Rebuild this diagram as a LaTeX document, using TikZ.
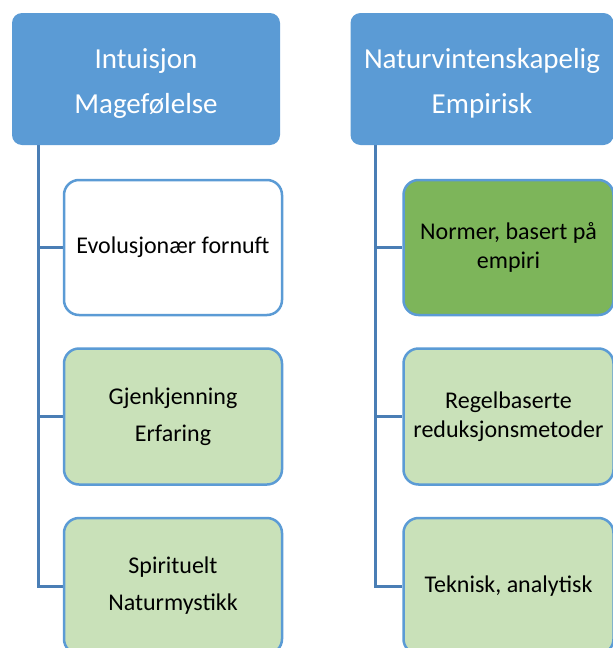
\documentclass[tikz,border=0pt]{standalone}
\usepackage{fontspec}
\setmainfont{Carlito}
\usetikzlibrary{backgrounds}
\definecolor{hdrblue}{HTML}{5B9BD5}
\definecolor{edgeblue}{HTML}{5B9BD5}
\definecolor{connblue}{HTML}{4A7EB5}
\definecolor{lightgreen}{HTML}{C9E1B9}
\definecolor{darkgreen}{HTML}{7DB55A}
\tikzset{
  header/.style={rectangle, rounded corners=10pt, fill=hdrblue, draw=none, text=white,
    align=center, font=\fontsize{29}{35}\selectfont, inner sep=0pt},
  child/.style={rectangle, rounded corners=15pt, draw=edgeblue, line width=2.5pt,
    align=center, font=\fontsize{24}{29}\selectfont, inner sep=0pt, text=black},
  conn/.style={draw=connblue, line width=3pt},
}
\begin{document}
\begin{tikzpicture}[x=1pt,y=1pt]
\useasboundingbox (0,0) rectangle (613,-648);
\clip (0,0) rectangle (613,-648);
% headers
\node[header, minimum width=268pt, minimum height=132pt] (hl) at (146,-79) {\rule{0pt}{29pt}Intuisjon\\[10pt]Magefølelse};
\node[header, minimum width=263pt, minimum height=132pt] (hr) at (482,-79) {\rule{0pt}{29pt}Naturvintenskapelig\\[10pt]Empirisk};
% trunk coordinates
\coordinate (lt) at ([xshift=-108pt]hl.south);
\coordinate (rt) at ([xshift=-107pt]hr.south);
% children left
\node[child, fill=white, minimum width=218pt, minimum height=135pt] (l1) at (173,-247.5) {Evolusjonær fornuft};
\node[child, fill=lightgreen, minimum width=218pt, minimum height=136pt] (l2) at (173,-416.5) {Gjenkjenning\\[8pt]Erfaring};
\node[child, fill=lightgreen, minimum width=218pt, minimum height=136pt] (l3) at (173,-586) {Spirituelt\\[8pt]Naturmystikk};
% children right
\node[child, fill=darkgreen, minimum width=210pt, minimum height=135pt] (r1) at (508.5,-247.5) {Normer, basert på\\empiri};
\node[child, fill=lightgreen, minimum width=210pt, minimum height=136pt] (r2) at (508.5,-416.5) {Regelbaserte\\reduksjonsmetoder};
\node[child, fill=lightgreen, minimum width=210pt, minimum height=136pt] (r3) at (508.5,-586) {Teknisk, analytisk};
% connectors
\begin{scope}[on background layer]
\draw[conn] (lt) |- (l3.west);
\draw[conn] (lt |- l1.west) -- (l1.west);
\draw[conn] (lt |- l2.west) -- (l2.west);
\draw[conn] (rt) |- (r3.west);
\draw[conn] (rt |- r1.west) -- (r1.west);
\draw[conn] (rt |- r2.west) -- (r2.west);
\end{scope}
\end{tikzpicture}
\end{document}
